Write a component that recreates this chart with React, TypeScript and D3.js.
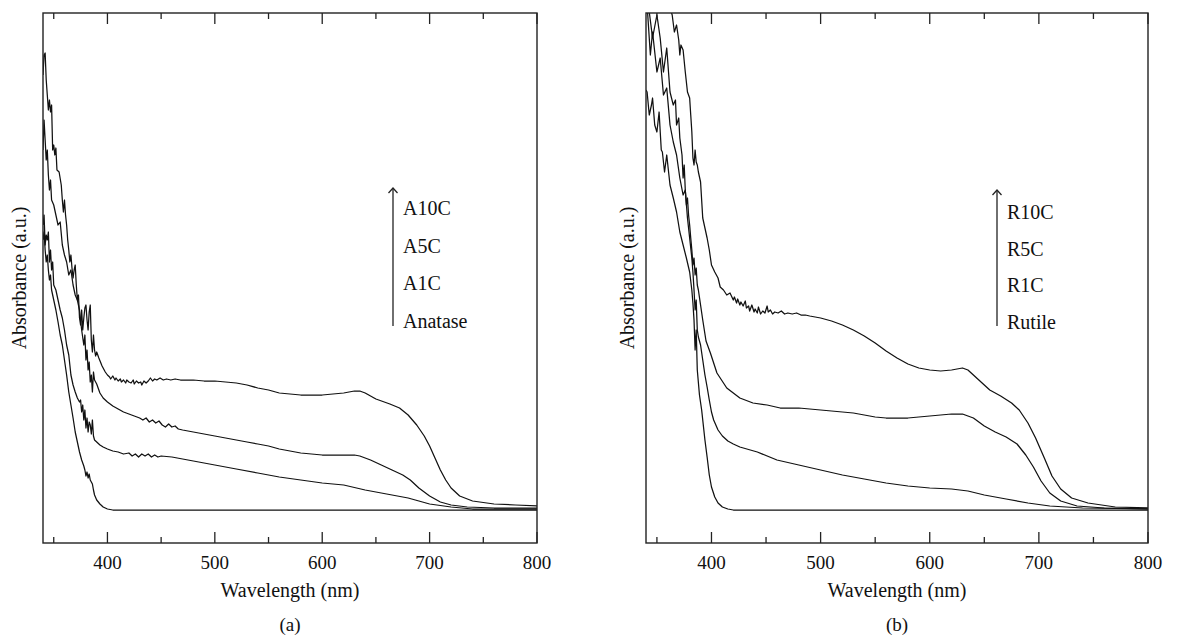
import React from "react";
import * as d3 from "d3";

type Pt = [number, number];

// ---------- axis ticks ----------
const majorTicks = [400, 500, 600, 700, 800];
const minorTicks = [350, 450, 550, 650, 750];
const xDomain: [number, number] = [340, 800];
const yDomain: [number, number] = [0, 5.3];

// ---------- panel (a) ----------
const A10C: Pt[] = [
  [340, 4.68], [341, 4.88], [342, 4.9], [343, 4.63], [344, 4.48], [345, 4.33], [346, 4.43], [347, 4.31], [348, 4.38],
  [349, 3.93], [350, 3.98], [351, 3.88], [352, 3.95], [353, 3.73], [355, 3.71], [357, 3.58], [358, 3.43], [359, 3.31],
  [360, 3.43], [361, 3.28], [362, 3.18], [363, 3.03], [364, 2.93], [365, 2.81], [366, 2.88], [367, 2.75], [368, 2.65],
  [369, 2.73], [370, 2.78], [371, 2.58], [372, 2.43], [373, 2.48], [374, 2.25], [375, 2.18], [376, 2.33], [377, 2.13],
  [378, 2.25], [379, 2.35], [380, 2.38], [381, 2.23], [382, 2.13], [383, 2.31], [384, 2.38], [385, 2.03], [386, 1.91],
  [387, 2.08], [388, 1.93], [389, 1.87], [390, 1.91], [392, 1.85], [395, 1.77], [398, 1.71], [400, 1.68], [402, 1.66],
  [403, 1.64], [405, 1.67], [407, 1.63], [408, 1.65], [410, 1.62], [412, 1.64], [413, 1.61], [415, 1.63], [417, 1.6],
  [418, 1.63], [420, 1.61], [422, 1.6], [424, 1.63], [425, 1.59], [427, 1.62], [429, 1.6], [431, 1.61], [432, 1.58],
  [434, 1.62], [436, 1.6], [438, 1.62], [440, 1.65], [442, 1.62], [444, 1.64], [446, 1.63], [449, 1.65], [452, 1.63],
  [455, 1.64], [459, 1.63], [463, 1.64], [468, 1.63], [474, 1.63], [480, 1.63], [490, 1.62], [500, 1.62], [510, 1.61],
  [520, 1.6], [530, 1.58], [540, 1.55], [550, 1.53], [560, 1.5], [570, 1.49], [580, 1.48], [590, 1.48], [600, 1.48],
  [610, 1.49], [620, 1.5], [630, 1.52], [635, 1.52], [640, 1.5], [650, 1.44], [663, 1.39], [672, 1.35], [680, 1.28],
  [688, 1.18], [695, 1.07], [700, 0.97], [705, 0.85], [710, 0.73], [715, 0.63], [720, 0.55], [728, 0.47], [740, 0.42],
  [760, 0.39], [780, 0.38], [800, 0.37],
];

const A5C: Pt[] = [
  [340, 3.93], [341, 4.23], [342, 4.03], [343, 3.83], [344, 3.93], [345, 3.68], [346, 3.53], [347, 3.63], [348, 3.43],
  [350, 3.38], [352, 3.28], [354, 3.18], [356, 3.21], [358, 2.98], [360, 2.88], [362, 2.81], [364, 2.68], [366, 2.73],
  [368, 2.58], [370, 2.48], [372, 2.43], [374, 2.33], [376, 2.13], [378, 1.98], [379, 2.08], [380, 1.83], [381, 1.93],
  [382, 1.73], [383, 1.81], [384, 1.61], [385, 1.68], [386, 1.51], [387, 1.71], [388, 1.63], [390, 1.59], [393, 1.5],
  [396, 1.45], [400, 1.41], [405, 1.37], [410, 1.34], [415, 1.31], [420, 1.29], [425, 1.27], [430, 1.25], [433, 1.23],
  [436, 1.25], [439, 1.21], [442, 1.23], [445, 1.2], [448, 1.22], [451, 1.18], [454, 1.16], [457, 1.19], [460, 1.16],
  [463, 1.17], [466, 1.14], [470, 1.13], [480, 1.11], [490, 1.09],
  [500, 1.07], [510, 1.05], [520, 1.03], [530, 1.01], [540, 0.99], [550, 0.97], [560, 0.94], [570, 0.92], [580, 0.9],
  [590, 0.89], [600, 0.88], [610, 0.88], [620, 0.88], [630, 0.88], [635, 0.87], [645, 0.83], [655, 0.78], [665, 0.73],
  [675, 0.68], [682, 0.63], [690, 0.55], [700, 0.47], [710, 0.41], [720, 0.38], [735, 0.36], [760, 0.35], [800, 0.35],
];

const A1C: Pt[] = [
  [340, 3.18], [341, 3.28], [342, 2.98], [343, 3.08], [344, 3.03], [345, 3.11], [346, 2.81], [347, 2.93], [348, 2.73],
  [349, 2.81], [350, 2.58], [352, 2.53], [354, 2.43], [356, 2.33], [358, 2.25], [360, 2.13], [362, 1.98], [364, 1.88],
  [366, 1.68], [368, 1.58], [370, 1.51], [372, 1.45], [374, 1.41], [375, 1.43], [376, 1.31], [377, 1.38], [378, 1.23],
  [379, 1.33], [380, 1.15], [381, 1.25], [382, 1.11], [383, 1.21], [384, 1.18], [385, 1.09], [386, 1.23], [387, 1.07],
  [388, 1.03], [390, 1.01], [393, 0.98], [396, 0.96], [400, 0.94], [405, 0.92], [410, 0.91], [415, 0.89], [420, 0.9],
  [423, 0.87], [426, 0.89], [429, 0.86], [432, 0.89], [435, 0.87], [438, 0.89], [441, 0.86], [444, 0.88], [447, 0.86],
  [450, 0.87], [460, 0.86], [470, 0.84], [480, 0.82],
  [490, 0.8], [500, 0.78], [520, 0.74], [540, 0.7], [560, 0.66], [580, 0.63], [600, 0.6], [620, 0.58], [640, 0.53],
  [660, 0.49], [680, 0.45], [690, 0.42], [700, 0.39], [720, 0.36], [740, 0.34], [800, 0.34],
];

const Anatase: Pt[] = [
  [340, 3.03], [341, 3.11], [342, 2.93], [343, 2.81], [344, 2.88], [345, 2.73], [346, 2.63], [347, 2.68], [348, 2.53],
  [350, 2.43], [352, 2.33], [354, 2.21], [356, 2.08], [358, 1.98], [360, 1.83], [362, 1.68], [364, 1.51], [366, 1.38],
  [368, 1.25], [370, 1.11], [372, 1.01], [374, 0.91], [376, 0.83], [378, 0.77], [379, 0.73], [380, 0.67], [381, 0.71],
  [382, 0.65], [383, 0.69], [384, 0.63], [385, 0.61], [386, 0.59], [387, 0.53], [388, 0.48], [390, 0.43], [393, 0.39],
  [396, 0.36], [400, 0.34], [405, 0.33], [800, 0.33],
];

// ---------- panel (b) ----------
const R10C: Pt[] = [
  [340, 6.03], [345, 5.83], [350, 5.63], [355, 5.43], [358, 5.38], [360, 5.33], [362, 5.35], [364, 5.28], [366, 5.11],
  [368, 5.18], [370, 5.03], [371, 4.88], [372, 4.98], [374, 4.93], [376, 4.71], [378, 4.51], [380, 4.45], [381, 4.28],
  [382, 4.11], [383, 3.85], [384, 3.78], [385, 3.93], [386, 3.81], [387, 3.78], [388, 3.71], [390, 3.61], [392, 3.25],
  [394, 3.15], [396, 3.05], [398, 2.93], [400, 2.78], [403, 2.71], [406, 2.65], [408, 2.56], [411, 2.53], [414, 2.48],
  [417, 2.5], [420, 2.43], [421, 2.46], [423, 2.4], [424, 2.44], [426, 2.38], [427, 2.41], [429, 2.37], [431, 2.42],
  [432, 2.35], [434, 2.37], [435, 2.32], [437, 2.38], [439, 2.31], [440, 2.34], [442, 2.3], [443, 2.36], [445, 2.29],
  [447, 2.32], [449, 2.3], [451, 2.37], [452, 2.31], [454, 2.33], [456, 2.29], [458, 2.31], [461, 2.3], [464, 2.32],
  [467, 2.29], [470, 2.3], [474, 2.29], [478, 2.3], [482, 2.28], [486, 2.28], [490, 2.27], [495, 2.26], [500, 2.25],
  [510, 2.22], [520, 2.18], [530, 2.13], [540, 2.07], [550, 2.0], [560, 1.92], [570, 1.85], [580, 1.79], [590, 1.75],
  [600, 1.73], [610, 1.72], [620, 1.73], [630, 1.75], [635, 1.73], [645, 1.63], [655, 1.53], [665, 1.47], [675, 1.4],
  [682, 1.33], [690, 1.2], [697, 1.05], [705, 0.85], [712, 0.67], [720, 0.54], [730, 0.45], [745, 0.4], [770, 0.36],
  [800, 0.35],
];

const R5C: Pt[] = [
  [340, 5.83], [343, 5.31], [346, 5.05], [350, 5.28], [353, 5.05], [356, 4.71], [359, 4.95], [362, 4.51], [365, 4.38],
  [367, 4.43], [368, 4.18], [370, 4.25], [371, 4.05], [373, 3.88], [374, 3.65], [375, 3.78], [376, 3.53], [377, 3.38],
  [378, 3.45], [379, 3.28], [380, 3.18], [381, 3.05], [382, 2.93], [383, 2.78], [384, 2.85], [385, 2.68], [386, 2.75],
  [387, 2.58], [388, 2.53], [390, 2.38], [392, 2.23], [395, 2.02], [399, 1.9], [405, 1.7], [414, 1.55], [426, 1.45],
  [438, 1.4], [451, 1.38], [463, 1.35], [470, 1.35], [480, 1.35], [490, 1.34], [500, 1.33], [510, 1.32], [520, 1.31],
  [530, 1.3], [540, 1.28], [550, 1.26], [560, 1.25], [570, 1.25], [580, 1.25], [590, 1.26], [600, 1.27], [610, 1.28],
  [620, 1.29], [630, 1.29], [640, 1.25], [650, 1.17], [660, 1.11], [670, 1.06], [680, 0.99], [688, 0.88], [695, 0.76],
  [702, 0.62], [710, 0.5], [720, 0.42], [735, 0.37], [760, 0.35], [800, 0.34],
];

const R1C: Pt[] = [
  [340, 5.43], [341, 5.38], [344, 4.88], [346, 5.11], [350, 4.71], [353, 4.85], [356, 4.48], [359, 4.55], [362, 4.18],
  [365, 4.01], [368, 3.88], [371, 3.65], [374, 3.48], [376, 3.53], [378, 3.25], [380, 3.05], [382, 2.85], [383, 2.71],
  [384, 2.53], [385, 2.33], [386, 2.43], [387, 2.13], [388, 2.06], [390, 1.98], [392, 1.83], [394, 1.68], [396, 1.56],
  [398, 1.43], [400, 1.31], [402, 1.23], [406, 1.13], [410, 1.07], [415, 1.02], [420, 0.99], [426, 0.96], [442, 0.91],
  [460, 0.83], [480, 0.78], [500, 0.73], [520, 0.68], [540, 0.64], [560, 0.6], [580, 0.57], [600, 0.55], [620, 0.54],
  [635, 0.52], [650, 0.48], [670, 0.44], [690, 0.4], [710, 0.37], [740, 0.35], [800, 0.34],
];

const Rutile: Pt[] = [
  [340, 4.53], [341, 4.51], [343, 4.28], [345, 4.38], [346, 4.45], [348, 4.18], [350, 4.11], [352, 4.31], [354, 3.93],
  [355, 3.91], [357, 3.71], [359, 3.88], [362, 3.58], [365, 3.45], [368, 3.31], [371, 3.11], [374, 2.98], [377, 2.85],
  [380, 2.71], [382, 2.53], [383, 2.4], [384, 2.23], [385, 1.93], [386, 2.13], [387, 1.73], [389, 1.48], [391, 1.33],
  [394, 1.03], [396, 0.86], [398, 0.68], [400, 0.56], [403, 0.46], [406, 0.4], [410, 0.36], [415, 0.34], [420, 0.33],
  [800, 0.33],
];

const legendA = ["A10C", "A5C", "A1C", "Anatase"];
const legendB = ["R10C", "R5C", "R1C", "Rutile"];

const FONT = "Liberation Serif, Times New Roman, serif";
const TOP = 13;
const BOTTOM = 543;

type PanelProps = {
  id: string;
  x0: number;
  x1: number;
  series: Pt[][];
  legend: string[];
  legendX: number;
  legendArrowTop: number;
  legendArrowBottom: number;
  legendBaselines: number[];
  tag: string;
  yLabelX: number;
};

function Panel(p: PanelProps) {
  const x = d3.scaleLinear().domain(xDomain).range([p.x0, p.x1]);
  const y = d3.scaleLinear().domain(yDomain).range([BOTTOM, TOP]);
  const line = d3
    .line<Pt>()
    .x((d) => x(d[0]))
    .y((d) => y(d[1]));
  const cx = (p.x0 + p.x1) / 2;
  const cy = (TOP + BOTTOM) / 2;
  return (
    <g>
      <defs>
        <clipPath id={`clip-${p.id}`}>
          <rect x={p.x0} y={TOP} width={p.x1 - p.x0} height={BOTTOM - TOP} />
        </clipPath>
      </defs>
      <g clipPath={`url(#clip-${p.id})`}>
        {p.series.map((s, i) => (
          <path key={i} d={line(s) || ""} fill="none" stroke="#111" strokeWidth={1.25} strokeLinejoin="round" />
        ))}
      </g>
      <rect x={p.x0} y={TOP} width={p.x1 - p.x0} height={BOTTOM - TOP} fill="none" stroke="#222" strokeWidth={1.4} />
      {majorTicks.map((t) => (
        <g key={`M${t}`}>
          <line x1={x(t)} x2={x(t)} y1={BOTTOM} y2={BOTTOM - 11} stroke="#222" strokeWidth={1.3} />
          <line x1={x(t)} x2={x(t)} y1={TOP} y2={TOP + 11} stroke="#222" strokeWidth={1.3} />
          <text x={x(t)} y={569} textAnchor="middle" style={{ fontFamily: FONT }} fontSize={19} fill="#111">
            {t}
          </text>
        </g>
      ))}
      {minorTicks.map((t) => (
        <g key={`m${t}`}>
          <line x1={x(t)} x2={x(t)} y1={BOTTOM} y2={BOTTOM - 6} stroke="#222" strokeWidth={1.3} />
          <line x1={x(t)} x2={x(t)} y1={TOP} y2={TOP + 6} stroke="#222" strokeWidth={1.3} />
        </g>
      ))}
      <text x={cx} y={597} textAnchor="middle" style={{ fontFamily: FONT }} fontSize={20} fill="#111">
        Wavelength (nm)
      </text>
      <text x={cx} y={631} textAnchor="middle" style={{ fontFamily: FONT }} fontSize={19} fill="#111">
        {p.tag}
      </text>
      <text
        transform={`translate(${p.yLabelX},${cy}) rotate(-90)`}
        textAnchor="middle"
        style={{ fontFamily: FONT }}
        fontSize={20}
        fill="#111"
      >
        Absorbance (a.u.)
      </text>
      <line x1={p.legendX} x2={p.legendX} y1={p.legendArrowBottom} y2={p.legendArrowTop} stroke="#222" strokeWidth={1.3} />
      <path
        d={`M${p.legendX - 4.5},${p.legendArrowTop + 5} L${p.legendX},${p.legendArrowTop} L${p.legendX + 4.5},${p.legendArrowTop + 5}`}
        fill="none"
        stroke="#222"
        strokeWidth={1.3}
      />
      {p.legend.map((l, i) => (
        <text key={l} x={p.legendX + 10} y={p.legendBaselines[i]} style={{ fontFamily: FONT }} fontSize={20} fill="#111">
          {l}
        </text>
      ))}
    </g>
  );
}

export default function App() {
  return (
    <svg
      width={1191}
      height={638}
      style={{ position: "absolute", left: 0, top: 0, background: "#fff" }}
    >
      <rect x={0} y={0} width={1191} height={638} fill="#fff" />
      <Panel
        id="a"
        x0={43}
        x1={537}
        series={[A10C, A5C, A1C, Anatase]}
        legend={legendA}
        legendX={393}
        legendArrowTop={188}
        legendArrowBottom={326}
        legendBaselines={[215, 253, 290, 328]}
        tag="(a)"
        yLabelX={26}
      />
      <Panel
        id="b"
        x0={646}
        x1={1148}
        series={[R10C, R5C, R1C, Rutile]}
        legend={legendB}
        legendX={997}
        legendArrowTop={190}
        legendArrowBottom={326}
        legendBaselines={[219, 256, 292, 329]}
        tag="(b)"
        yLabelX={634}
      />
    </svg>
  );
}
